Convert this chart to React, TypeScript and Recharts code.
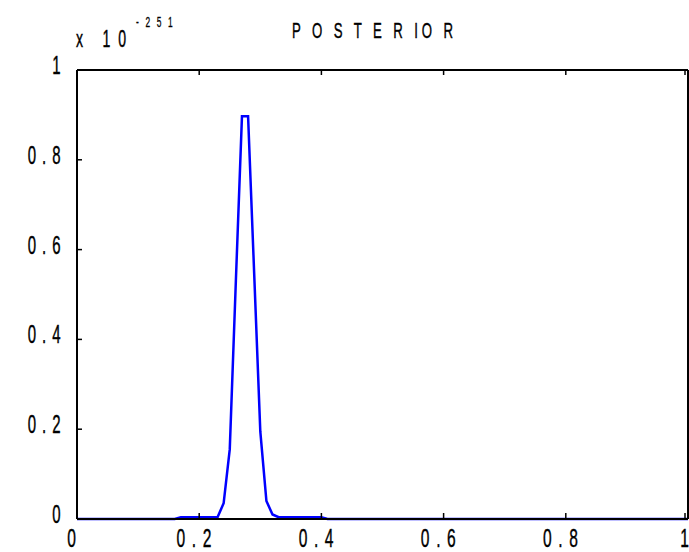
import React from 'react';
import { LineChart, Line, XAxis, YAxis } from 'recharts';

// posterior curve (values are x 10^-251)
const xs = [0, 0.16, 0.17, 0.23, 0.24, 0.25, 0.26, 0.27, 0.28, 0.29, 0.3, 0.31, 0.32, 0.33, 0.4, 0.41, 1];
const ys = [0, 0, 0.004, 0.004, 0.035, 0.155, 0.53, 0.897, 0.897, 0.546, 0.195, 0.04, 0.01, 0.004, 0.004, 0, 0];

const xTicks = [0, 0.2, 0.4, 0.6, 0.8, 1];
const yTicks = [0, 0.2, 0.4, 0.6, 0.8, 1];

const title = 'P O S T E R IO R';
const scaleBase = 'x 10';
const scaleExp = '-251';

const data = xs.map((x, i) => ({ x, y: ys[i] }));

const FONT = '"Liberation Sans", Arial, sans-serif';
const TICK_LEN = 5;

// matlab-ish squeezed labels
const txt = { fontFamily: FONT, fill: '#000', stroke: '#000', strokeWidth: 0.4 };

const BottomTick = (props: any) => {
  const { x, y, payload } = props;
  const last = payload.value === 1;
  return (
    <g>
      <line x1={x} x2={x} y1={y} y2={y - TICK_LEN - 1} stroke="#000" strokeWidth={1.5} />
      <text transform={`translate(${last ? 689 : x - 2},${y + 27.5}) scale(0.6,1)`}
        textAnchor={last ? 'end' : 'middle'} fontSize={26} letterSpacing={last ? 0 : 11} {...txt}>
        {String(payload.value)}
      </text>
    </g>
  );
};

const TopTick = (props: any) => {
  const { x, y } = props;
  return <line x1={x} x2={x} y1={y} y2={y + TICK_LEN} stroke="#000" strokeWidth={1.5} />;
};

const LeftTick = (props: any) => {
  const { x, y, payload } = props;
  return (
    <g>
      <line x1={x} x2={x + TICK_LEN} y1={y} y2={y} stroke="#000" strokeWidth={1.5} />
      <text transform={`translate(${x - 10.5},${y + 4}) scale(0.6,1)`} textAnchor="end"
        fontSize={25} letterSpacing={10} {...txt}>
        {String(payload.value)}
      </text>
    </g>
  );
};

const RightTick = (props: any) => {
  const { x, y } = props;
  return <line x1={x} x2={x - TICK_LEN} y1={y} y2={y} stroke="#000" strokeWidth={1.5} />;
};

const axisLine = { stroke: '#000', strokeWidth: 2 };

export default function App() {
  return (
    <div style={{ position: 'absolute', left: 0, top: 0, width: 689, height: 552, background: '#fff' }}>
      <LineChart width={689} height={552} data={data} margin={{ top: 69, right: 0, bottom: 32, left: 76 }}>
        <XAxis dataKey="x" type="number" domain={[0, 1]} ticks={xTicks} height={1}
          tickSize={0} tickMargin={0} tickLine={false} axisLine={axisLine} tick={<BottomTick />} />
        <XAxis xAxisId="top" dataKey="x" orientation="top" type="number" domain={[0, 1]} ticks={xTicks} height={1}
          tickSize={0} tickMargin={0} tickLine={false} axisLine={axisLine} tick={<TopTick />} />
        <YAxis type="number" domain={[0, 1]} ticks={yTicks} width={1}
          tickSize={0} tickMargin={0} tickLine={false} axisLine={axisLine} tick={<LeftTick />} />
        <YAxis yAxisId="right" orientation="right" type="number" domain={[0, 1]} ticks={yTicks} width={1}
          tickSize={0} tickMargin={0} tickLine={false} axisLine={axisLine} tick={<RightTick />} />
        <Line type="linear" dataKey="y" stroke="#0000ff" strokeWidth={2.5} dot={false}
          isAnimationActive={false} />
      </LineChart>
      <svg width={689} height={552} style={{ position: 'absolute', left: 0, top: 0, pointerEvents: 'none' }}>
        <text transform="translate(76,46.7) scale(0.6,1)" fontSize={23.5} letterSpacing={13} {...txt}>
          {scaleBase}
        </text>
        <text transform="translate(136,26.7) scale(0.6,1)" fontSize={14} letterSpacing={11} {...txt}
          strokeWidth={0.3}>
          {scaleExp}
        </text>
        <text transform="translate(292,38.3) scale(0.6,1)" fontSize={22} letterSpacing={6.5} {...txt}>
          {title}
        </text>
      </svg>
    </div>
  );
}
